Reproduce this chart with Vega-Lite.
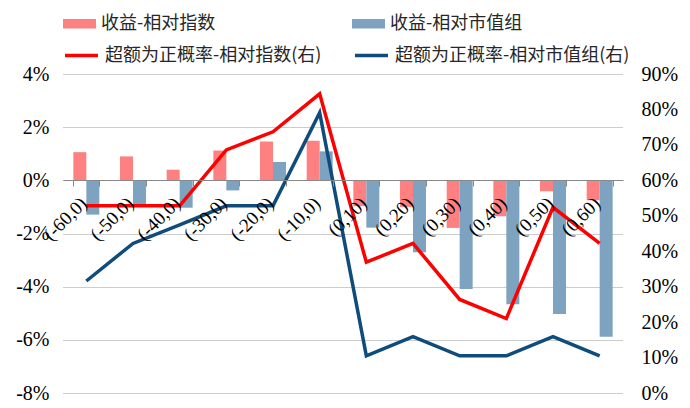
{
  "$schema": "https://vega.github.io/schema/vega-lite/v6.json",
  "autosize": {"type": "none"},
  "width": 560,
  "height": 319,
  "padding": {"left": 63, "top": 74, "right": 67, "bottom": 15},
  "background": "white",
  "config": {
    "view": {"stroke": null},
    "font": "Liberation Serif",
    "axis": {"labelFont": "Liberation Serif"},
    "legend": {
      "title": null,
      "orient": "none",
      "direction": "horizontal",
      "labelFont": "Noto Sans CJK SC",
      "labelFontSize": 18,
      "labelColor": "#262626",
      "labelOffset": 5,
      "labelLimit": 400
    }
  },
  "datasets": {
    "returns": [
      {"period": "(-60,0)", "series": "收益-相对指数", "value": 1.06},
      {"period": "(-50,0)", "series": "收益-相对指数", "value": 0.90},
      {"period": "(-40,0)", "series": "收益-相对指数", "value": 0.40},
      {"period": "(-30,0)", "series": "收益-相对指数", "value": 1.12},
      {"period": "(-20,0)", "series": "收益-相对指数", "value": 1.46},
      {"period": "(-10,0)", "series": "收益-相对指数", "value": 1.49},
      {"period": "(0,10)", "series": "收益-相对指数", "value": -0.97},
      {"period": "(0,20)", "series": "收益-相对指数", "value": -1.0},
      {"period": "(0,30)", "series": "收益-相对指数", "value": -1.79},
      {"period": "(0,40)", "series": "收益-相对指数", "value": -1.35},
      {"period": "(0,50)", "series": "收益-相对指数", "value": -0.41},
      {"period": "(0,60)", "series": "收益-相对指数", "value": -0.75},
      {"period": "(-60,0)", "series": "收益-相对市值组", "value": -1.29},
      {"period": "(-50,0)", "series": "收益-相对市值组", "value": -0.94},
      {"period": "(-40,0)", "series": "收益-相对市值组", "value": -1.03},
      {"period": "(-30,0)", "series": "收益-相对市值组", "value": -0.38},
      {"period": "(-20,0)", "series": "收益-相对市值组", "value": 0.69},
      {"period": "(-10,0)", "series": "收益-相对市值组", "value": 1.09},
      {"period": "(0,10)", "series": "收益-相对市值组", "value": -1.78},
      {"period": "(0,20)", "series": "收益-相对市值组", "value": -2.71},
      {"period": "(0,30)", "series": "收益-相对市值组", "value": -4.09},
      {"period": "(0,40)", "series": "收益-相对市值组", "value": -4.66},
      {"period": "(0,50)", "series": "收益-相对市值组", "value": -5.03},
      {"period": "(0,60)", "series": "收益-相对市值组", "value": -5.88}
    ],
    "probs": [
      {"period": "(-60,0)", "series": "超额为正概率-相对指数(右)", "value": 52.8},
      {"period": "(-50,0)", "series": "超额为正概率-相对指数(右)", "value": 52.8},
      {"period": "(-40,0)", "series": "超额为正概率-相对指数(右)", "value": 52.8},
      {"period": "(-30,0)", "series": "超额为正概率-相对指数(右)", "value": 68.6},
      {"period": "(-20,0)", "series": "超额为正概率-相对指数(右)", "value": 73.7},
      {"period": "(-10,0)", "series": "超额为正概率-相对指数(右)", "value": 84.4},
      {"period": "(0,10)", "series": "超额为正概率-相对指数(右)", "value": 36.9},
      {"period": "(0,20)", "series": "超额为正概率-相对指数(右)", "value": 42.2},
      {"period": "(0,30)", "series": "超额为正概率-相对指数(右)", "value": 26.4},
      {"period": "(0,40)", "series": "超额为正概率-相对指数(右)", "value": 21.0},
      {"period": "(0,50)", "series": "超额为正概率-相对指数(右)", "value": 52.4},
      {"period": "(0,60)", "series": "超额为正概率-相对指数(右)", "value": 42.2},
      {"period": "(-60,0)", "series": "超额为正概率-相对市值组(右)", "value": 31.6},
      {"period": "(-50,0)", "series": "超额为正概率-相对市值组(右)", "value": 42.2},
      {"period": "(-40,0)", "series": "超额为正概率-相对市值组(右)", "value": 47.4},
      {"period": "(-30,0)", "series": "超额为正概率-相对市值组(右)", "value": 52.8},
      {"period": "(-20,0)", "series": "超额为正概率-相对市值组(右)", "value": 52.8},
      {"period": "(-10,0)", "series": "超额为正概率-相对市值组(右)", "value": 79.1},
      {"period": "(0,10)", "series": "超额为正概率-相对市值组(右)", "value": 10.5},
      {"period": "(0,20)", "series": "超额为正概率-相对市值组(右)", "value": 15.9},
      {"period": "(0,30)", "series": "超额为正概率-相对市值组(右)", "value": 10.5},
      {"period": "(0,40)", "series": "超额为正概率-相对市值组(右)", "value": 10.5},
      {"period": "(0,50)", "series": "超额为正概率-相对市值组(右)", "value": 15.9},
      {"period": "(0,60)", "series": "超额为正概率-相对市值组(右)", "value": 10.5}
    ]
  },
  "layer": [
    {
      "data": {"name": "returns"},
      "mark": {"type": "bar"},
      "encoding": {
        "x": {
          "field": "period",
          "type": "nominal",
          "sort": null,
          "scale": {"paddingInner": 0.443, "paddingOuter": 0.2215},
          "axis": {
            "title": null,
            "offset": -213,
            "labelAngle": -45,
            "labelAlign": "right",
            "labelBaseline": "middle",
            "labelFont": "Liberation Serif",
            "labelFontSize": 19,
            "labelColor": "#000",
            "labelPadding": 14,
            "labelOffset": -3,
            "labelBound": false,
            "labelOverlap": false,
            "domainColor": "#888",
            "tickColor": "#888",
            "tickSize": 6,
            "tickBand": "extent",
            "grid": false,
            "zindex": 1
          }
        },
        "xOffset": {"field": "series", "type": "nominal", "sort": null},
        "y": {
          "field": "value",
          "type": "quantitative",
          "scale": {"domain": [-8, 4], "nice": false},
          "axis": {
            "title": null,
            "values": [-8, -6, -4, -2, 0, 2, 4],
            "labelExpr": "datum.value + '%'",
            "labelFont": "Liberation Serif",
            "domain": false,
            "ticks": false,
            "grid": true,
            "gridColor": "#999",
            "gridDash": [1, 1],
            "labelFontSize": 20,
            "labelColor": "#000",
            "labelPadding": 14
          }
        },
        "color": {
          "field": "series",
          "type": "nominal",
          "sort": null,
          "scale": {"domain": ["收益-相对指数", "收益-相对市值组"], "range": ["#FF8080", "#7DA3C0"]},
          "legend": {
            "legendX": 0,
            "legendY": -67,
            "symbolType": "M-1,-0.29H1V0.29H-1Z",
            "symbolSize": 1089,
            "symbolStrokeWidth": 0,
            "symbolOpacity": 1,
            "columnPadding": 136
          }
        }
      }
    },
    {
      "data": {"name": "probs"},
      "encoding": {
        "x": {"field": "period", "type": "nominal", "sort": null},
        "y": {
          "field": "value",
          "type": "quantitative",
          "scale": {"domain": [0, 90], "nice": false},
          "axis": {
            "title": null,
            "orient": "right",
            "values": [0, 10, 20, 30, 40, 50, 60, 70, 80, 90],
            "labelExpr": "datum.value + '%'",
            "labelFont": "Liberation Serif",
            "domain": false,
            "ticks": false,
            "grid": false,
            "labelFontSize": 20,
            "labelColor": "#000",
            "labelPadding": 18
          }
        }
      },
      "layer": [
        {
          "transform": [{"filter": "datum.series === '超额为正概率-相对指数(右)'"}],
          "mark": {"type": "line", "strokeWidth": 3.5},
          "encoding": {
            "color": {
              "field": "series",
              "type": "nominal",
              "scale": {"domain": ["超额为正概率-相对指数(右)"], "range": ["#FF0000"]},
              "legend": {
                "legendX": 0,
                "legendY": -37,
                "symbolType": "stroke",
                "symbolSize": 1089,
                "symbolStrokeWidth": 3.5
              }
            }
          }
        },
        {
          "transform": [{"filter": "datum.series === '超额为正概率-相对市值组(右)'"}],
          "mark": {"type": "line", "strokeWidth": 3.5},
          "encoding": {
            "stroke": {
              "field": "series",
              "type": "nominal",
              "scale": {"domain": ["超额为正概率-相对市值组(右)"], "range": ["#0F4C7B"]},
              "legend": {
                "legendX": 290,
                "legendY": -37,
                "symbolType": "stroke",
                "symbolSize": 1089,
                "symbolStrokeWidth": 3.5
              }
            }
          }
        }
      ]
    }
  ],
  "resolve": {"scale": {"y": "independent", "color": "independent"}}
}
